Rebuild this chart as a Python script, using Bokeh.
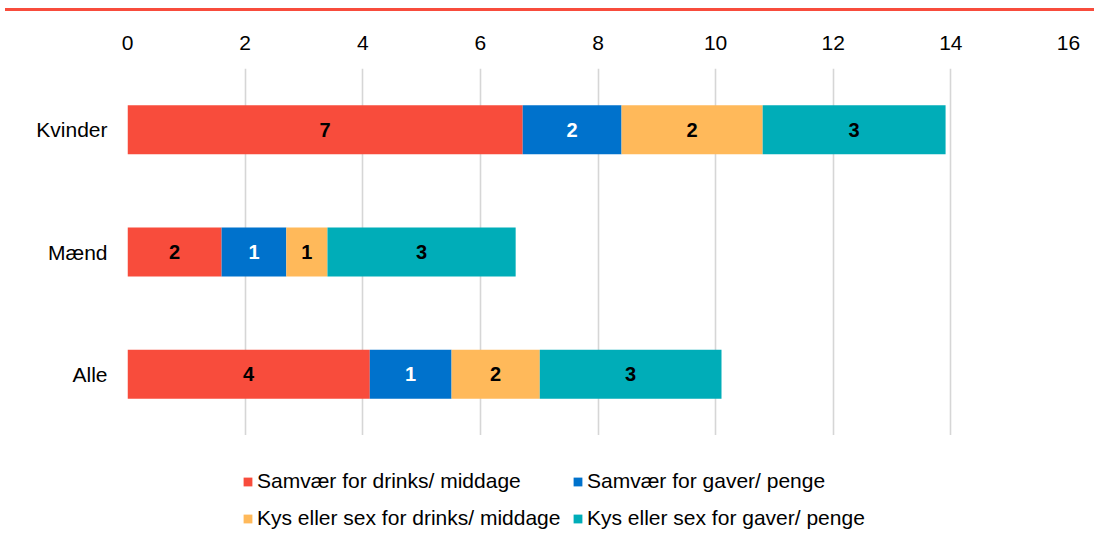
from bokeh.plotting import figure
from bokeh.models import (ColumnDataSource, FactorRange, Range1d, Legend, LegendItem,
                          FixedTicker, Div, LabelSet)
from bokeh.core.properties import value
from bokeh.layouts import column
from bokeh.embed import file_html
from bokeh.resources import INLINE
import numpy as np

categories = ["Kvinder", "Mænd", "Alle"]
series_names = ["Samvær for drinks/ middage", "Samvær for gaver/ penge",
                "Kys eller sex for drinks/ middage", "Kys eller sex for gaver/ penge"]
drinks_middage = [6.72, 1.60, 4.12]
gaver_penge = [1.68, 1.10, 1.39]
kys_drinks = [2.40, 0.70, 1.50]
kys_gaver = [3.11, 3.20, 3.09]
value_labels = [["7", "2", "4"], ["2", "1", "1"], ["2", "1", "2"], ["3", "3", "3"]]
x_ticks = [0, 2, 4, 6, 8, 10, 12, 14, 16]

colors = ["#F84C3C", "#0072CC", "#FFB95A", "#00ADB8"]
label_colors = ["black", "white", "black", "black"]
FONT = "Liberation Sans"

series = [drinks_middage, gaver_penge, kys_drinks, kys_gaver]
keys = ["s0", "s1", "s2", "s3"]

data = {"cat": categories}
for k, s in zip(keys, series):
    data[k] = s
source = ColumnDataSource(data)

p = figure(width=1089, height=419, output_backend="svg", toolbar_location=None,
           y_range=FactorRange(factors=list(reversed(categories)), range_padding=0),
           x_range=Range1d(0, 16), x_axis_location="above",
           min_border_left=127, min_border_right=21, min_border_top=52, min_border_bottom=0)
p.outline_line_color = None

p.hbar_stack(keys, y="cat", height=0.4, color=colors, line_color=None, source=source)

# segment labels
cum = np.zeros(len(categories))
for i, s in enumerate(series):
    s = np.array(s)
    mid = cum + s / 2
    cum = cum + s
    lsrc = ColumnDataSource(dict(x=mid, y=categories, t=value_labels[i]))
    p.add_layout(LabelSet(x="x", y="y", text="t", source=lsrc, text_align="center",
                          text_baseline="middle", text_font=value(FONT),
                          text_font_size=value("20px"), text_font_style=value("bold"),
                          text_color=value(label_colors[i])))

# axes
xa = p.xaxis[0]
xa.ticker = FixedTicker(ticks=x_ticks)
xa.axis_line_color = None
xa.major_tick_line_color = None
xa.minor_tick_line_color = None
xa.major_label_text_font = FONT
xa.major_label_text_font_size = "21px"
xa.major_label_text_color = "#000000"
xa.major_label_standoff = 13

ya = p.yaxis[0]
ya.axis_line_color = None
ya.major_tick_line_color = None
ya.minor_tick_line_color = None
ya.major_label_text_font = FONT
ya.major_label_text_font_size = "21px"
ya.major_label_text_color = "#000000"
ya.major_label_standoff = 14

p.xgrid.grid_line_color = "#d6d6d6"
p.xgrid.grid_line_width = 1.6
p.ygrid.grid_line_color = None

# legend in its own strip below the chart; its (zero-height) bars lie outside the strip's x range
lg = figure(width=1089, height=95, output_backend="svg", toolbar_location=None,
            x_range=Range1d(100, 101), y_range=FactorRange(factors=categories),
            min_border_left=127, min_border_right=21, min_border_top=0, min_border_bottom=0)
lg.axis.visible = False
lg.grid.visible = False
lg.outline_line_color = None
leg_renderers = lg.hbar_stack(keys, y="cat", height=0.0, color=colors, line_color=None,
                              source=source)

common = dict(label_text_font=FONT, label_text_font_size="21px", label_text_color="#000000",
              glyph_width=11, glyph_height=11, label_standoff=4, label_height=24,
              spacing=13, padding=0, margin=0, border_line_color=None,
              background_fill_alpha=0, orientation="vertical")
col1 = Legend(items=[LegendItem(label=series_names[0], renderers=[leg_renderers[0]]),
                     LegendItem(label=series_names[2], renderers=[leg_renderers[2]])],
              location=(115, 0), **common)
col2 = Legend(items=[LegendItem(label=series_names[1], renderers=[leg_renderers[1]]),
                     LegendItem(label=series_names[3], renderers=[leg_renderers[3]])],
              location=(445, 0), **common)
lg.add_layout(col1, "center")
lg.add_layout(col2, "center")

line = Div(width=1089, height=6, styles={
    "background": "linear-gradient(to bottom, #ffffff 0px, #ffffff 3px, #F84C3C 3px, #F84C3C 6px)"})
layout = column(line, p, lg, spacing=0)

open("out.html", "w").write(file_html(layout, INLINE))
